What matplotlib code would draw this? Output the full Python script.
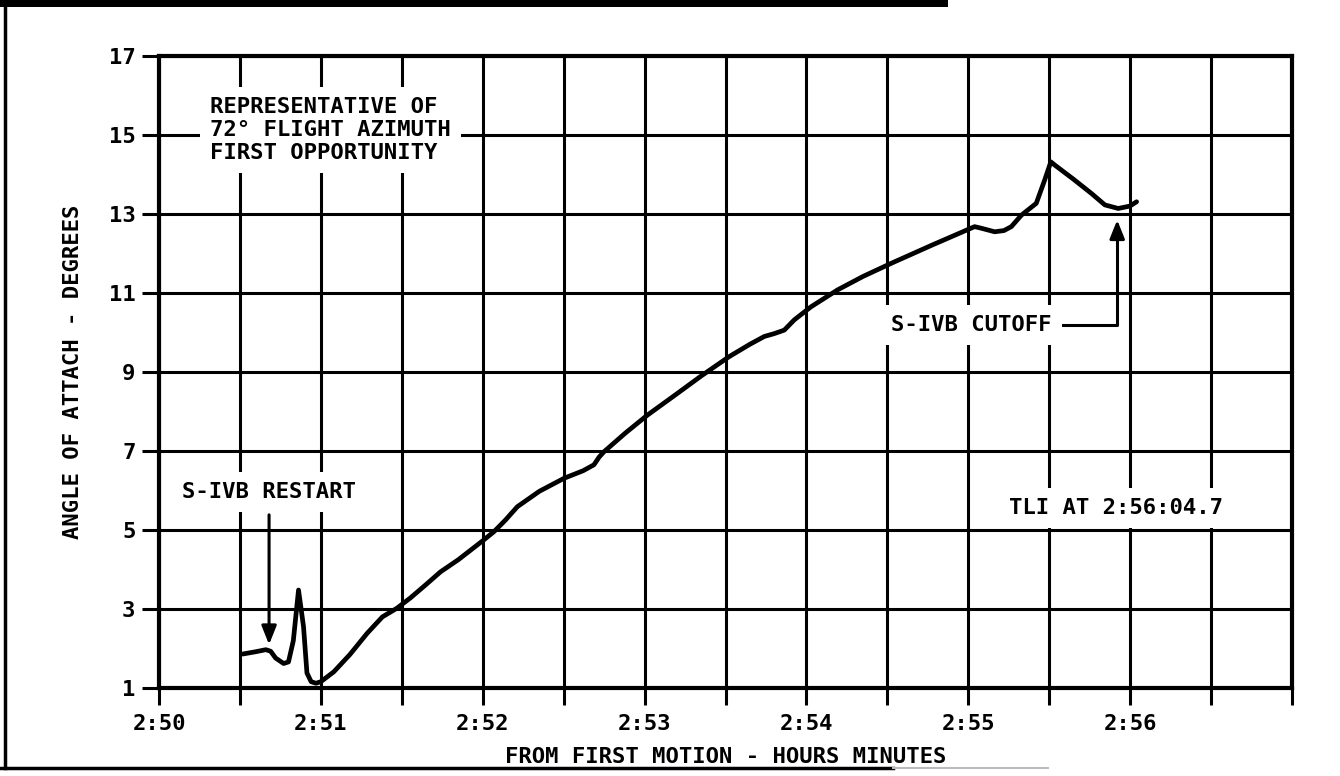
import matplotlib
matplotlib.use("Agg")
import matplotlib.pyplot as plt
from matplotlib.lines import Line2D
from matplotlib.patches import Rectangle
import numpy as np

plt.rcParams['font.family'] = ['DejaVu Sans Mono', 'DejaVu Sans']
plt.rcParams['font.weight'] = 'bold'
plt.rcParams['axes.labelweight'] = 'bold'

# minutes after 2:00 and angle of attack (deg)
minutes = [50.517, 50.60, 50.66, 50.69, 50.72, 50.77, 50.80, 50.83, 50.862, 50.893,
           50.914, 50.94, 50.97, 51.00, 51.08, 51.18, 51.285, 51.38, 51.47, 51.553,
           51.65, 51.739, 51.85, 52.007, 52.07, 52.14, 52.214, 52.35, 52.503,
           52.62, 52.687, 52.72, 52.749, 52.88, 53.018, 53.20, 53.35, 53.523,
           53.65, 53.74, 53.80, 53.863, 53.925, 54.028, 54.193, 54.35, 54.523, 54.78,
           55.039, 55.08, 55.163, 55.22, 55.266, 55.328, 55.42, 55.472, 55.51,
           55.534, 55.65, 55.761, 55.844, 55.926, 55.998, 56.04]
angle = [1.86, 1.92, 1.97, 1.93, 1.76, 1.62, 1.66, 2.20, 3.48, 2.55,
         1.38, 1.16, 1.12, 1.16, 1.41, 1.85, 2.38, 2.80, 3.02, 3.28,
         3.62, 3.94, 4.25, 4.75, 4.96, 5.25, 5.59, 5.98, 6.31,
         6.50, 6.65, 6.85, 6.98, 7.45, 7.91, 8.45, 8.90, 9.39,
         9.70, 9.90, 9.97, 10.06, 10.32, 10.65, 11.08, 11.42, 11.75, 12.22,
         12.68, 12.64, 12.55, 12.58, 12.68, 12.97, 13.27, 13.86, 14.32,
         14.24, 13.88, 13.52, 13.23, 13.14, 13.20, 13.31]

x_major = [50, 51, 52, 53, 54, 55, 56]
x_labels = ['2:50', '2:51', '2:52', '2:53', '2:54', '2:55', '2:56']
x_minor = [50.5, 51.5, 52.5, 53.5, 54.5, 55.5, 56.5, 57]
y_ticks = [1, 3, 5, 7, 9, 11, 13, 15, 17]

restart_t, restart_v = 50.68, 2.1
cutoff_t, cutoff_v = 55.92, 12.85

fs = 16
fig = plt.figure(figsize=(13.4, 7.76), dpi=100)
ax = fig.add_axes([159/1340, 1-688/776, (1292-159)/1340, (688-56)/776])

ax.plot(minutes, angle, color='k', lw=3.4, solid_joinstyle='round',
        solid_capstyle='round', zorder=3)

ax.set_xlim(50, 57)
ax.set_ylim(1, 17)
ax.set_xticks(x_major)
ax.set_xticklabels(x_labels)
ax.set_xticks(x_minor, minor=True)
ax.set_yticks(y_ticks)
ax.set_yticklabels([str(v) for v in y_ticks])
ax.tick_params(axis='both', which='both', direction='out', length=12, width=2.2,
               labelsize=fs, color='k')
ax.tick_params(axis='x', which='major', pad=7)
ax.tick_params(axis='y', pad=5)
ax.grid(True, which='both', color='k', lw=2.2)
ax.set_axisbelow(True)
for s in ax.spines.values():
    s.set_linewidth(3)

ax.set_xlabel("FROM FIRST MOTION - HOURS MINUTES", fontsize=fs)
ax.xaxis.set_label_coords(0.5, -0.094)
ax.set_ylabel("ANGLE OF ATTACH - DEGREES", fontsize=fs)
ax.yaxis.set_label_coords(-0.067, 0.5)

box = dict(boxstyle='square,pad=0.45', fc='white', ec='none')
arrow = dict(arrowstyle='-|>,head_length=0.7,head_width=0.28', color='k', lw=2.2)

ax.text(50.316, 15.13, "REPRESENTATIVE OF\n72° FLIGHT AZIMUTH\nFIRST OPPORTUNITY",
        ha='left', va='center', fontsize=fs, linespacing=1.2, bbox=box, zorder=4)
ax.annotate("S-IVB RESTART", xy=(restart_t, restart_v), xytext=(restart_t, 5.96),
            ha='center', va='center', fontsize=fs, bbox=box, zorder=4,
            arrowprops=dict(arrow, relpos=(0.5, 0), shrinkA=2, shrinkB=0))
ax.annotate("S-IVB CUTOFF", xy=(cutoff_t, cutoff_v), xytext=(54.524, 10.2),
            ha='left', va='center', fontsize=fs, bbox=box, zorder=4,
            arrowprops=dict(arrow, relpos=(1, 0.5), shrinkA=0, shrinkB=0,
                            connectionstyle='angle,angleA=0,angleB=90,rad=0'))
ax.text(55.254, 5.56, "TLI AT 2:56:04.7", ha='left', va='center', fontsize=fs,
        bbox=box, zorder=4)

# page frame of the scanned figure
fig.add_artist(Rectangle((0, 1-7/776), 948/1340, 7/776, transform=fig.transFigure,
                         fc='k', ec='none'))
fig.add_artist(Line2D([5/1340, 5/1340], [1-768/776, 1], transform=fig.transFigure,
                      color='k', lw=2.5))
fig.add_artist(Line2D([0, 893/1340], [1-768/776, 1-768/776], transform=fig.transFigure,
                      color='k', lw=2.5))
fig.add_artist(Line2D([893/1340, 1048/1340], [1-768/776, 1-768/776],
                      transform=fig.transFigure, color='#bbbbbb', lw=1.5))

fig.savefig("out.png", dpi=100, facecolor='white')
